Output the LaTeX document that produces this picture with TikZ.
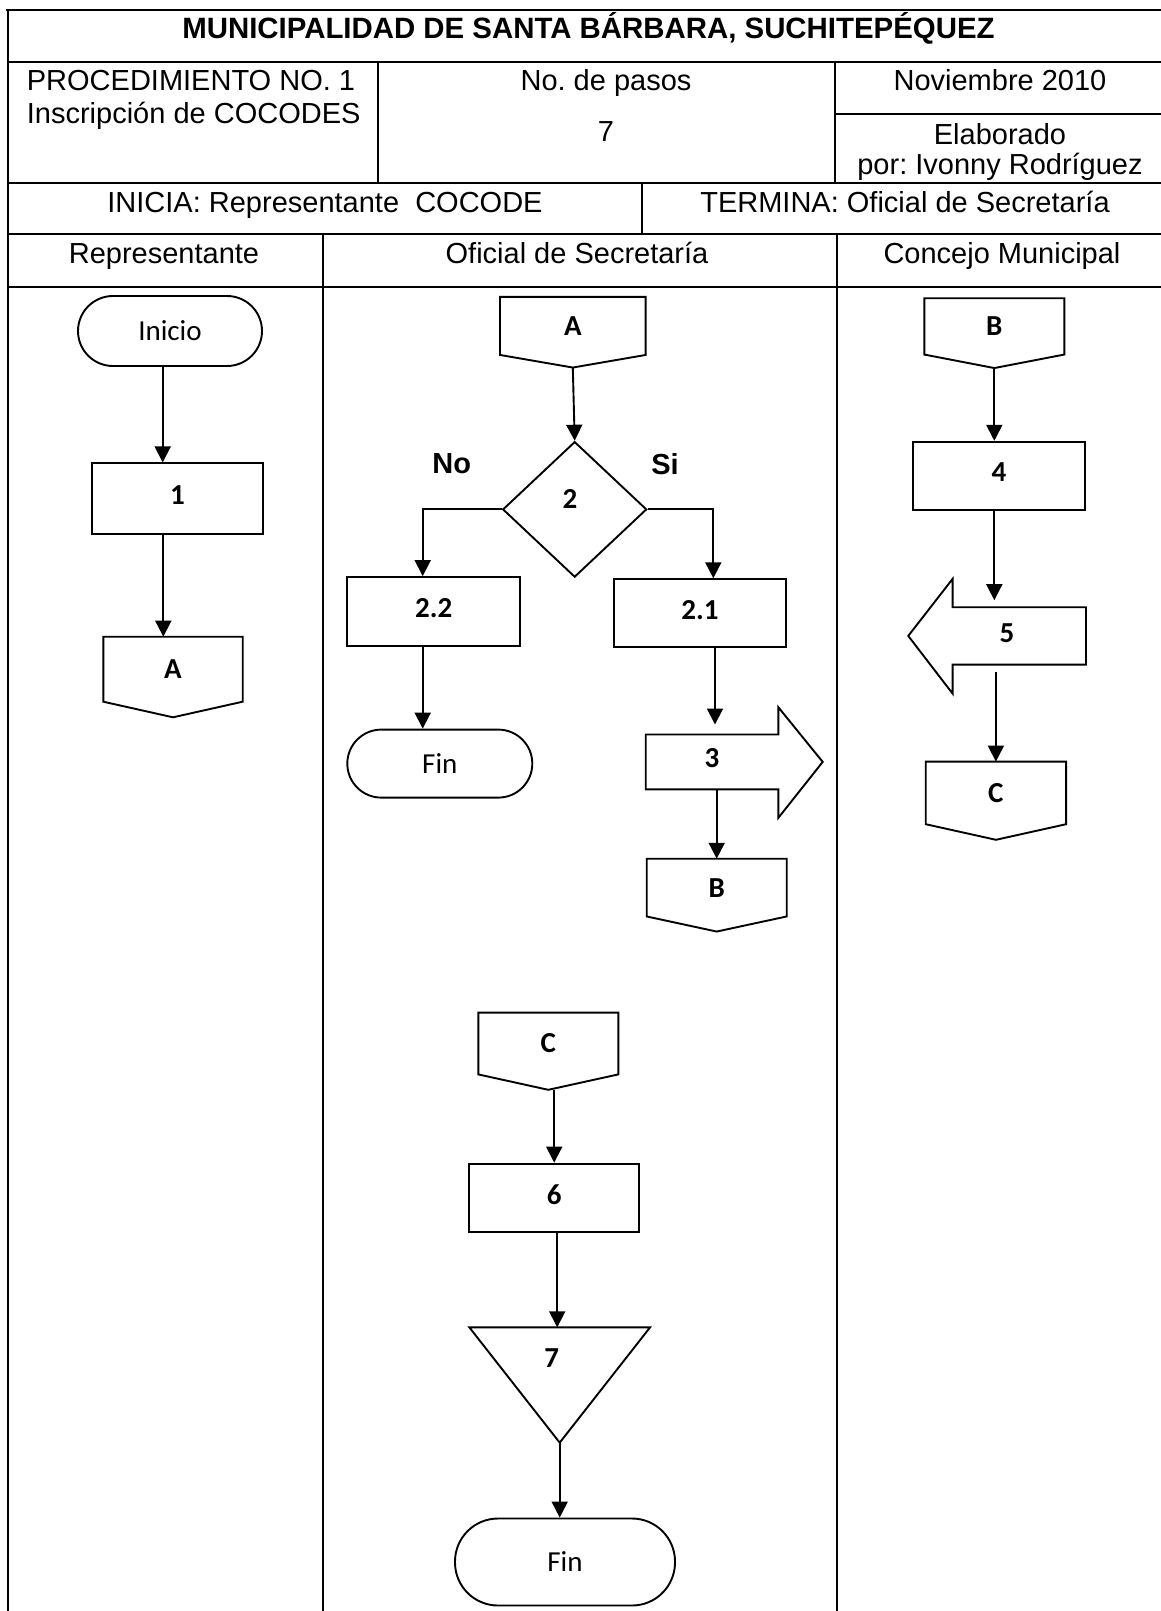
\documentclass[tikz,border=0pt]{standalone}
\usepackage{fontspec}
\setmainfont{Liberation Sans}
\newfontfamily\flowfont{Carlito}
\usetikzlibrary{arrows.meta,shapes.geometric,calc}
\frenchspacing

% off-page connector: name, x, y, width, height of the box part, depth of the point, label
\newcommand\offpage[7]{%
  \node[frame,minimum width=#4,minimum height=#5] (#1) at (#2,#3) {#7};
  \draw[outline] (#1.north west) -- (#1.north east) -- (#1.south east)
    -- ($(#1.south)+(0,#6)$) coordinate (#1tip) -- (#1.south west) -- cycle;}

\begin{document}
\begin{tikzpicture}[x=1pt,y=-1pt,
  rule/.style={line width=1.8pt},
  outline/.style={draw,line width=1.9pt,line join=miter},
  arr/.style={line width=1.9pt,-{Triangle[width=16pt,length=16pt]}},
  headtext/.style={font=\fontsize{29}{33}\selectfont,inner sep=0pt,anchor=base},
  titletext/.style={font=\fontsize{29.4}{33}\selectfont\bfseries,inner sep=0pt,anchor=base},
  lbl/.style={font=\flowfont\bfseries\fontsize{29}{32}\selectfont,inner sep=0pt},
  lblr/.style={font=\flowfont\fontsize{29}{32}\selectfont,inner sep=0pt},
  procbox/.style={outline,rectangle,lbl,text depth=7pt},
  term/.style={outline,rectangle,lblr},
  frame/.style={inner sep=0pt,outer sep=0pt,lbl},
  branch/.style={font=\fontsize{29}{33}\selectfont\bfseries,inner sep=0pt},
]
\fill[white] (0,0) rectangle (1161,1611);
\useasboundingbox (0,0) rectangle (1161,1611);

% ---------- table ----------
\draw[rule] (6,10) -- (1161,10);
\draw[rule] (8,10) -- (8,1611);
\draw[rule] (8,61.7) -- (1161,61.7);
\draw[rule] (8,182.7) -- (1161,182.7);
\draw[rule] (835,114) -- (1161,114);
\draw[rule] (8,234.3) -- (1161,234.3);
\draw[rule] (8,286.7) -- (1161,286.7);
\draw[rule] (377.7,61.7) -- (377.7,182.7);
\draw[rule] (835,61.7) -- (835,182.7);
\draw[rule] (642,182.7) -- (642,234.3);
\draw[rule] (323,234.3) -- (323,1611);
\draw[rule] (837,234.3) -- (837,1611);

\node[titletext] (title) at (588.5,38.5) {MUNICIPALIDAD DE SANTA BÁRBARA, SUCHITEPÉQUEZ};
\node[headtext,anchor=base west] (proc) at (26.7,90.5) {PROCEDIMIENTO NO. 1};
\node[headtext,anchor=base west] (insc) at (26.7,123.5) {Inscripción de COCODES};
\node[headtext] (npasos) at (606,90.5) {No. de pasos};
\node[headtext] (npasosv) at (606,141.5) {7};
\node[headtext] (fecha) at (1000,90.5) {Noviembre 2010};
\node[headtext] (elab) at (1000,144) {Elaborado};
\node[headtext] (autor) at (1000,174) {por: Ivonny Rodríguez};
\node[headtext] (inicia) at (325,212) {INICIA: Representante\ \ COCODE};
\node[headtext] (termina) at (905,212) {TERMINA: Oficial de Secretaría};
\node[headtext] (lane1) at (164,263) {Representante};
\node[headtext] (lane2) at (577,263) {Oficial de Secretaría};
\node[headtext] (lane3) at (1002,263) {Concejo Municipal};

% ---------- lane 1: Representante ----------
\node[term,rounded corners=35pt,minimum width=184,minimum height=70] (inicio) at (170,331) {Inicio};
\node[procbox,minimum width=171.6,minimum height=70.7] (p1) at (177.5,498.7) {1};
\offpage{cAa}{173}{669.2}{139.4}{65}{15.6}{A}

% ---------- lane 2: Oficial de Secretaria ----------
\offpage{cAb}{572.8}{325.9}{145.7}{58.1}{12.6}{A}
\node[outline,diamond,minimum width=144,minimum height=135.5,inner sep=0pt] (d2) at (574.7,509.4) {};
\node[lbl] (d2lbl) at (570,499) {2};
\node[branch] (no) at (451.7,464) {No};
\node[branch] (si) at (665,464) {Si};
\node[procbox,minimum width=172.7,minimum height=68.6] (p22) at (433.7,611.4) {2.2};
\node[procbox,minimum width=172,minimum height=68.2] (p21) at (700,613.3) {2.1};
\node[term,rounded corners=34pt,minimum width=185,minimum height=68] (fin1) at (439.8,763.6) {Fin};
\node[frame,text depth=7pt,minimum width=132.6,minimum height=54.8] (s3) at (712,761.9) {3};
\draw[outline] (s3.north west) -- (s3.north east) -- ++(0,-27.3)
  -- ($(s3.east)+(44.4,0)$) -- ($(s3.south east)+(0,28.6)$)
  -- (s3.south east) -- (s3.south west) -- cycle;
\offpage{cBb}{716.7}{887.6}{140}{57.7}{15.1}{B}
\offpage{cCb}{548.3}{1043.5}{140}{61.8}{15.4}{C}
\node[procbox,minimum width=170.3,minimum height=68] (p6) at (554.2,1197.6) {6};
\node[frame,minimum width=180.7,minimum height=115.3] (t7) at (559.7,1385) {};
\draw[outline] (t7.north west) -- (t7.north east) -- (t7.south) -- cycle;
\node[lbl] (t7lbl) at (551.7,1358) {7};
\node[term,rounded corners=43pt,minimum width=220,minimum height=87] (fin2) at (565,1562) {Fin};

% ---------- lane 3: Concejo Municipal ----------
\offpage{cBc}{994.3}{326.4}{140}{56.3}{13.5}{B}
\node[procbox,minimum width=171.7,minimum height=68] (p4) at (999,475.8) {4};
\node[frame,minimum width=133.3,minimum height=57.4] (s5) at (1019.3,635.9) {};
\draw[outline] (s5.north east) -- (s5.north west) -- ++(0,-28.4)
  -- ($(s5.west)+(-44.4,0)$) -- ($(s5.south west)+(0,29.1)$)
  -- (s5.south west) -- (s5.south east) -- cycle;
\node[lbl] (s5lbl) at (1007,633) {5};
\offpage{cCc}{995.9}{792.9}{140.3}{62.6}{15.6}{C}

% ---------- connectors ----------
\coordinate (k1) at ([xshift=-7.3pt]inicio.south);
\draw[arr] (k1) -- (k1 |- p1.north);
\coordinate (k2) at ([xshift=-14.2pt]p1.south);
\draw[arr] (k2) -- (k2 |- cAa.north);

\draw[arr] (cAbtip) -- (d2.north);
\coordinate (k4) at ([xshift=-11pt]p22.north);
\draw[arr] (d2.west) -| (k4);
\coordinate (k5) at ([xshift=13.3pt]p21.north);
\draw[arr] (d2.east) -| (k5);
\coordinate (k6) at ([xshift=-11pt]p22.south);
\draw[arr] (k6) -- (k6 |- fin1.north);
\coordinate (k7) at ([xshift=15pt]p21.south);
\draw[arr,shorten >=10pt] (k7) -- (k7 |- s3.north);
\draw[arr] (cBb.north |- s3.south) -- (cBb.north);

\draw[arr] (cBctip) -- (cBctip |- p4.north);
\coordinate (k10) at ([xshift=-4.7pt]p4.south);
\draw[arr,shorten >=7pt] (k10) -- (k10 |- s5.north);
\draw[arr,shorten <=7pt] (cCc.north |- s5.south) -- (cCc.north);

\draw[arr] (p6.north |- cCbtip) -- (p6.north);
\coordinate (k13) at ([xshift=3pt]p6.south);
\draw[arr] (k13) -- (k13 |- t7.north);
\draw[arr] (t7.south) -- (t7.south |- fin2.north);
\end{tikzpicture}
\end{document}
